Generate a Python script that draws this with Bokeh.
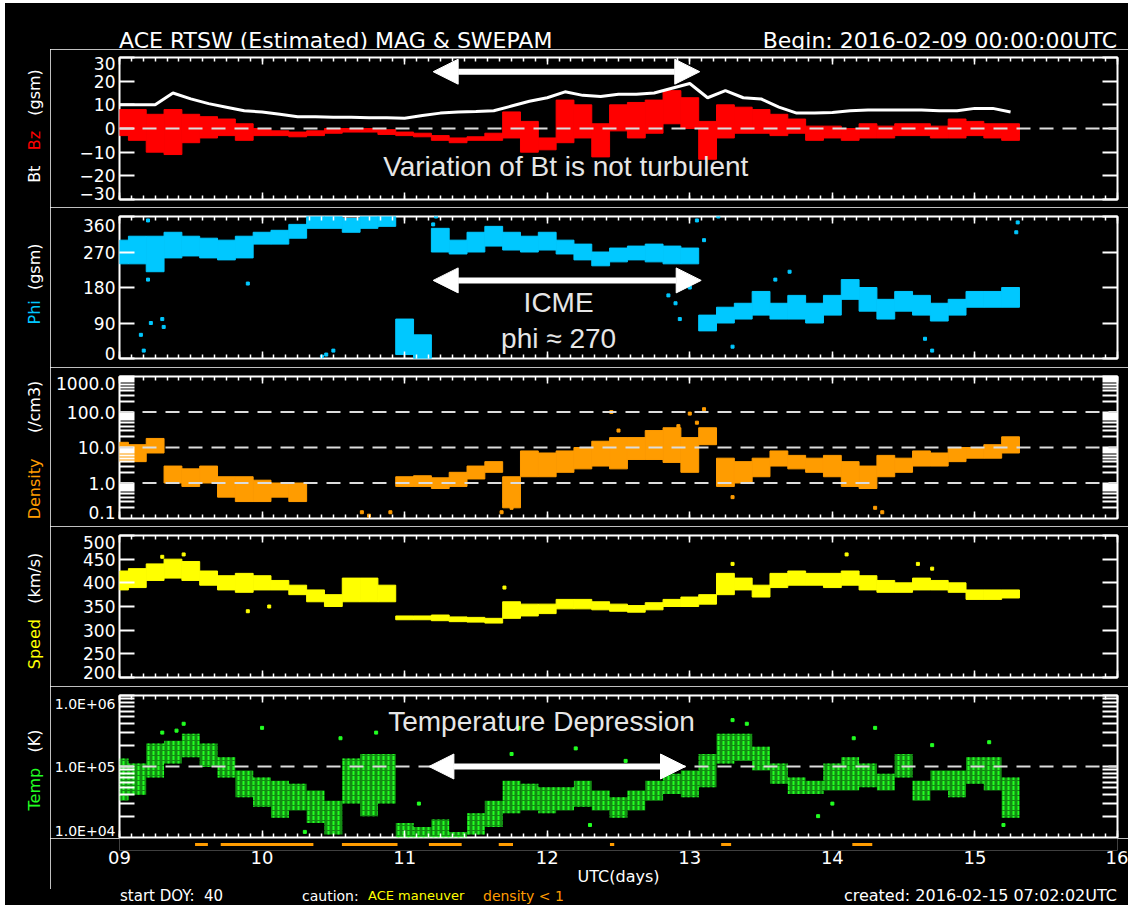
import math
from bokeh.plotting import figure
from bokeh.layouts import column, row
from bokeh.models import (Range1d, FixedTicker, LinearAxis, LogAxis, Span, Label, Div,
                          Arrow, NormalHead, CustomJSTickFormatter)
from bokeh.embed import file_html
from bokeh.resources import INLINE

NaN = float("nan")

# ---------------- data (3-hour bins) ----------------
HOURS = [0, 3, 6, 9, 12, 15, 18, 21, 24, 27, 30, 33, 36, 39, 42, 45, 48, 51, 54, 57,
         60, 63, 66, 69, 72, 75, 78, 81, 84, 87, 90, 93, 96, 99, 102, 105, 108, 111,
         114, 117, 120, 123, 126, 129, 132, 135, 138, 141, 144, 147, 150]
DAYS = [9 + h / 24 for h in HOURS]   # UTC day of February 2016

BT = [10, 10, 10, 15, 12.5, 10.5, 9, 7.5, 7, 6, 5, 5, 4.8, 4.8, 4.5, 4.5, 4.3, 5.5, 6.5, 7,
      7.2, 7.5, 9.5, 11.5, 13, 15.5, 14, 13.5, 14.5, 14.5, 15, 17, 19, 13, 16, 13, 12.5, 9,
      6.5, 6.5, 6.8, 7.5, 7.8, 7.8, 7.8, 7.8, 7.5, 7.5, 8.5, 8.5, 7]
BZ_LO = [-3, -5, -10, -11, -6, -4, -3, -5, -3, -3, -3.5, -3, -2, -1.5, -1.5, -2.5, -3, -3.5,
         -5, -6, -5, -5, -4, -10, -9, -6, -4, -12, -1, -4, -2, 2, 0, -13, -4, -2, -2, -3,
         -2, -5, -4, -5, -4, -4, -3, -3, -4, -4, -3, -4, -5]
BZ_HI = [8, 8, 6, 8, 6, 5, 4, 2, 0, -1, -1.5, -1, 0, 0, 0, -0.5, -1.5, -2, -3, -4, -3.5, -2,
         7, 3, -4, 12, 10, 2, 10, 11, 12, 16, 13, 3, 10, 9, 8, 6, 4, 1, 1, 0, 2, 1, 2, 2, 1,
         4, 3, 2, 2]
PHI_LO = [240, 240, 220, 255, 260, 255, 250, 255, 290, 290, 305, 330, 330, 320, 330, 335,
          10, 0, 270, 265, 270, 285, 275, 270, 275, 265, 250, 235, 245, 250, 245, 240, 240,
          70, 90, 100, 110, 100, 100, 90, 110, 150, 120, 100, 120, 110, 95, 110, 130, 130, 130]
PHI_HI = [300, 310, 310, 320, 310, 305, 300, 310, 320, 325, 340, 360, 360, 355, 360, 360,
          100, 60, 330, 300, 320, 335, 320, 310, 320, 300, 290, 270, 280, 285, 290, 285, 280,
          110, 130, 140, 170, 140, 160, 140, 160, 200, 180, 150, 170, 160, 140, 150, 170, 170, 180]
DENS_LO = [4, 4, 7, 1.0, 0.8, 1.0, 0.4, 0.3, 0.3, 0.4, 0.3, NaN, NaN, NaN, NaN, NaN,
           0.8, 0.8, 0.7, 0.8, 1.3, 2, 0.2, 1.5, 1.5, 2, 2.5, 3, 2.5, 4.6, 4.6, 3.8, 2, 12,
           0.8, 1, 1.5, 3, 2.5, 2, 1.5, 0.8, 0.7, 1.5, 2, 3, 3, 4, 5, 5, 7]
DENS_HI = [14, 12, 18, 3, 2.5, 3, 1.5, 1.5, 1.2, 1.0, 1.0, NaN, NaN, NaN, NaN, NaN,
           1.5, 1.6, 1.4, 2, 3, 4, 1.5, 8, 7, 8, 10, 15, 19, 19, 30, 36, 19, 36,
           5, 4, 5, 8, 6, 5, 6, 4, 3, 6, 5, 8, 7, 10, 10, 12, 20]
SPEED_LO = [385, 390, 405, 410, 405, 395, 385, 380, 385, 385, 375, 360, 350, 360, 360, 360,
            322, 322, 320, 318, 317, 315, 325, 330, 335, 345, 345, 343, 340, 338, 343, 350,
            350, 355, 375, 385, 370, 390, 395, 395, 390, 395, 385, 380, 380, 385, 385, 380,
            365, 365, 368]
SPEED_HI = [425, 430, 440, 450, 445, 425, 415, 420, 415, 405, 395, 385, 375, 410, 410, 395,
            330, 330, 332, 328, 327, 325, 360, 355, 355, 365, 365, 360, 355, 352, 358, 365,
            370, 375, 420, 410, 395, 420, 425, 420, 420, 425, 415, 405, 400, 410, 405, 400,
            385, 385, 385]
TEMP_LO = [3.3e4, 4e4, 7e4, 1.1e5, 1.35e5, 9.8e4, 7e4, 3.7e4, 2.7e4, 1.9e4, 2.4e4, 1.6e4,
           1.1e4, 3e4, 2e4, 3e4, 1e4, 1e4, 1e4, 1e4, 1.1e4, 1.4e4, 2.2e4, 2.4e4, 2.2e4,
           2.4e4, 2.7e4, 2.4e4, 1.9e4, 2.4e4, 3.3e4, 4.1e4, 3.7e4, 5.1e4, 1.1e5, 1.2e5,
           8.8e4, 5.7e4, 4.1e4, 4.1e4, 4.6e4, 4.6e4, 5.1e4, 4.6e4, 7e4, 3.3e4, 4.6e4, 3.7e4,
           5.7e4, 4.6e4, 1.9e4]
TEMP_HI = [1.3e5, 1.1e5, 2.1e5, 2.3e5, 2.9e5, 2.1e5, 1.35e5, 8.8e4, 7e4, 6.3e4, 5.7e4, 4.6e4,
           3.3e4, 1.3e5, 1.5e5, 1.5e5, 1.6e4, 1.4e4, 1.8e4, 1.2e4, 2.2e4, 3.3e4, 6.3e4, 5.7e4,
           5.1e4, 5.1e4, 6.3e4, 4.6e4, 3.7e4, 4.6e4, 6.3e4, 7.9e4, 8.8e4, 1.5e5, 2.9e5, 2.9e5,
           1.9e5, 1.1e5, 7e4, 6.3e4, 1.1e5, 1.35e5, 1.1e5, 7.9e4, 1.5e5, 6.3e4, 8.8e4, 8.8e4,
           1.35e5, 1.35e5, 7e4]

# isolated points that stand apart from the main traces
PHI_OUT_DAY = [9.15, 9.17, 9.2, 9.2, 9.22, 9.3, 9.31, 9.9, 10.42, 10.45, 10.5, 11.2, 11.22,
               12.85, 12.9, 12.93, 13.0, 13.05, 13.1, 13.2, 13.3, 13.6, 13.7, 14.65, 14.7,
               15.29, 15.3]
PHI_OUT_VAL = [60, 20, 350, 200, 90, 100, 80, 190, 5, 10, 20, 340, 360, 160, 140, 100, 180,
               350, 300, 360, 30, 200, 220, 50, 20, 320, 345]
DENS_OUT_DAY = [10.7, 10.75, 10.9, 11.68, 11.7, 11.75, 12.45, 12.5, 12.92, 13.0, 13.05, 13.1,
                13.3, 14.3, 14.35]
DENS_OUT_VAL = [0.15, 0.12, 0.15, 0.15, 0.3, 0.2, 100, 30, 40, 90, 50, 120, 0.4, 0.2, 0.15]
SPEED_OUT_DAY = [9.3, 9.45, 9.9, 10.05, 11.7, 13.3, 14.1, 14.6, 14.7]
SPEED_OUT_VAL = [455, 460, 340, 350, 390, 440, 460, 440, 430]
TEMP_OUT_DAY = [9.3, 9.4, 9.45, 10.0, 10.3, 10.55, 10.8, 11.1, 11.75, 11.8, 12.2, 12.3, 12.55,
                13.3, 13.4, 13.9, 14.0, 14.15, 14.3, 14.7, 15.1, 15.2]
TEMP_OUT_VAL = [3e5, 3.2e5, 4e5, 3.5e5, 1.2e4, 2.5e5, 3e5, 3e4, 1.5e5, 3.5e5, 1.8e5, 1.5e4,
                1.2e5, 4.5e5, 4e5, 2e4, 3e4, 2.5e5, 3.5e5, 2e5, 2.2e5, 1.5e4]

# periods flagged "density < 1" (orange marks under the last panel)
LOW_DENS_START = [9.53, 9.71, 10.56, 11.17, 11.66, 12.44, 13.22, 14.14]
LOW_DENS_END = [9.62, 10.36, 10.95, 11.40, 11.76, 12.47, 13.29, 14.28]

X_TICKS = [9, 10, 11, 12, 13, 14, 15, 16]
X_MINOR = [9 + k / 12 for k in range(85)]

TITLE_LEFT = "ACE RTSW (Estimated) MAG &amp; SWEPAM"
TITLE_RIGHT = "Begin: 2016-02-09 00:00:00UTC"
Y_TITLES = [
    [("Bt", "white"), ("&nbsp;&nbsp; ", "white"), ("Bz", "#ff0000"), ("&nbsp;&nbsp; (gsm)", "white")],
    [("Phi", "#00c8ff"), ("&nbsp; (gsm)", "white")],
    [("Density", "#ff9c00"), ("&nbsp;&nbsp;&nbsp;&nbsp; (/cm3)", "white")],
    [("Speed", "#ffff00"), ("&nbsp;&nbsp; (km/s)", "white")],
    [("Temp", "#22ff22"), ("&nbsp;&nbsp; (K)", "white")],
]
# footer: text, colour, left position (px), font size (px)
FOOTER = [("start DOY:&nbsp; 40", "white", 115, 15), ("caution:", "white", 297, 14),
          ("ACE maneuver", "#ffff00", 363, 13), ("density &lt; 1", "#ff9c00", 478, 14)]
FOOTER_RIGHT = "created: 2016-02-15 07:02:02UTC"

BIN_W = 3 / 24
FONT = "DejaVu Sans"
ANN_FONT = "Liberation Sans"
DASH = "14 9"
GREY = "#dcdcdc"

BLANK = CustomJSTickFormatter(code="return ''")


def style_x(ax):
    ax.ticker = FixedTicker(ticks=X_TICKS, minor_ticks=X_MINOR)
    ax.formatter = BLANK
    ax.axis_line_color = None
    ax.major_tick_in, ax.major_tick_out = 7, 0
    ax.minor_tick_in, ax.minor_tick_out = 4, 0
    ax.major_tick_line_color = "white"
    ax.minor_tick_line_color = "white"
    ax.major_tick_line_width = 1.5
    ax.minor_tick_line_width = 1.5
    ax.major_label_standoff = 0


def style_y_left(ax, label_pos, tick_pos, fmt, font_size):
    # labels sit at label_pos (edge labels nudged inside, as in the original);
    # tick marks are drawn at tick_pos
    ax.ticker = FixedTicker(ticks=label_pos, minor_ticks=tick_pos)
    ax.formatter = fmt
    ax.axis_line_color = None
    ax.major_tick_line_color = None
    ax.major_tick_in, ax.major_tick_out = 0, 0
    ax.minor_tick_in, ax.minor_tick_out = 15, 0
    ax.minor_tick_line_color = "white"
    ax.minor_tick_line_width = 2
    ax.major_label_text_color = "white"
    ax.major_label_text_font = FONT
    ax.major_label_text_font_size = font_size
    ax.major_label_standoff = 4


def style_y_right(ax, tick_pos):
    ax.ticker = FixedTicker(ticks=tick_pos)
    ax.formatter = BLANK
    ax.axis_line_color = None
    ax.major_tick_in, ax.major_tick_out = 15, 0
    ax.major_tick_line_color = "white"
    ax.major_tick_line_width = 2
    ax.minor_tick_line_color = None
    ax.major_label_standoff = 0


def panel(y_range, y_type, label_pos, tick_pos, fmt, top, bottom, font_size="17px"):
    p = figure(frame_width=998, frame_height=142, x_range=Range1d(9, 16), y_range=y_range,
               y_axis_type=y_type, output_backend="svg", toolbar_location=None,
               min_border_left=69, min_border_right=11, min_border_top=top,
               min_border_bottom=bottom, background_fill_color="black",
               border_fill_color="black", outline_line_color="white", outline_line_width=2)
    p.grid.visible = False
    style_x(p.xaxis[0])
    top_ax = LinearAxis()
    style_x(top_ax)
    p.add_layout(top_ax, "above")
    style_y_left(p.yaxis[0], label_pos, tick_pos, fmt, font_size)
    right_ax = LogAxis() if y_type == "log" else LinearAxis()
    style_y_right(right_ax, tick_pos)
    p.add_layout(right_ax, "right")
    return p


def ann(p, x, y, text):
    p.add_layout(Label(x=x, y=y, text=text, text_color="#e6e6e6", text_font=ANN_FONT,
                       text_font_size="28px", text_align="center", text_baseline="middle"))


def arrow(p, x0, x1, y):
    p.add_layout(Arrow(x_start=x0, y_start=y, x_end=x1, y_end=y, line_color="white",
                       line_width=6,
                       start=NormalHead(size=25, fill_color="white", line_color="white"),
                       end=NormalHead(size=25, fill_color="white", line_color="white")))


def hspan(p, v):
    p.add_layout(Span(location=v, dimension="width", line_color=GREY, line_width=2,
                      line_dash=DASH))


def log_minor(n0, n1):
    return [k * 10.0 ** n for n in range(n0, n1) for k in range(1, 10)][1:]


def dots(p, x, y, color):
    p.scatter(x=x, y=y, marker="square", size=3, color=color)


# ---------------- panel 1 : Bt / Bz ----------------
p1 = panel(Range1d(-30, 30), "linear", [-27.3, -20, -10, 0, 10, 20, 27.3],
           [-30, -20, -10, 0, 10, 20, 30],
           CustomJSTickFormatter(code="const v = Math.round(tick/10)*10; return v < 0 ? '\\u2212' + (-v) : String(v)"),
           8, 8)
hspan(p1, 0)
p1.vbar(x=DAYS, bottom=BZ_LO, top=BZ_HI, width=BIN_W, color="#ff0000")
p1.line(x=DAYS, y=BT, line_color="white", line_width=3)
arrow(p1, 11.20, 13.07, 24)
ann(p1, 12.13, -16, "Variation of Bt is not turbulent")

# ---------------- panel 2 : Phi ----------------
p2 = panel(Range1d(0, 360), "linear", [12.7, 90, 180, 270, 337], [0, 90, 180, 270, 360],
           CustomJSTickFormatter(code="return String(Math.round(tick/90)*90)"), 9, 9)
p2.vbar(x=DAYS, bottom=PHI_LO, top=PHI_HI, width=BIN_W, color="#00c8ff")
dots(p2, PHI_OUT_DAY, PHI_OUT_VAL, "#00c8ff")
arrow(p2, 11.20, 13.08, 198)
ann(p2, 12.08, 142, "ICME")
ann(p2, 12.08, 51, "phi \u2248 270")

# ---------------- panel 3 : Density ----------------
p3 = panel(Range1d(0.1, 1000), "log", [0.148, 1, 10, 100, 635], log_minor(-1, 3) + [1000],
           CustomJSTickFormatter(code="return Math.pow(10, Math.round(Math.log10(tick))).toFixed(1)"),
           9, 8)
for v in (1, 10, 100):
    hspan(p3, v)
p3.vbar(x=DAYS, bottom=DENS_LO, top=DENS_HI, width=BIN_W, color="#ff9c00")
dots(p3, DENS_OUT_DAY, DENS_OUT_VAL, "#ff9c00")

# ---------------- panel 4 : Speed ----------------
p4 = panel(Range1d(200, 500), "linear", [210.6, 250, 300, 350, 400, 450, 485.2],
           [200, 250, 300, 350, 400, 450, 500],
           CustomJSTickFormatter(code="return String(Math.round(tick/50)*50)"), 9, 9)
p4.vbar(x=DAYS, bottom=SPEED_LO, top=SPEED_HI, width=BIN_W, color="#ffff00")
dots(p4, SPEED_OUT_DAY, SPEED_OUT_VAL, "#ffff00")

# ---------------- panel 5 : Temperature ----------------
p5 = panel(Range1d(1e4, 1e6), "log", [1.14e4, 1e5, 7.7e5], log_minor(4, 6) + [1e6],
           CustomJSTickFormatter(code="return '1.0E+' + String(Math.round(Math.log10(tick))).padStart(2, '0')"),
           9, 1, font_size="14px")
hspan(p5, 1e5)
p5.vbar(x=DAYS, bottom=TEMP_LO, top=TEMP_HI, width=BIN_W, fill_color="#22ff22", fill_alpha=0.55,
        line_alpha=0, hatch_pattern=":", hatch_color="#22ff22", hatch_scale=5, hatch_weight=2)
dots(p5, TEMP_OUT_DAY, TEMP_OUT_VAL, "#22ff22")
arrow(p5, 11.17, 12.97, 1e5)
ann(p5, 11.96, 4.3e5, "Temperature Depression")

# ---------------- strip: density<1 marks and the day axis ----------------
p6 = figure(frame_width=998, frame_height=12, x_range=p5.x_range, y_range=Range1d(0, 1),
            output_backend="svg", toolbar_location=None, min_border_left=69,
            min_border_right=11, min_border_top=0, min_border_bottom=39,
            background_fill_color="black", border_fill_color="black", outline_line_color=None)
p6.grid.visible = False
p6.yaxis.visible = False
xa = p6.xaxis[0]
xa.ticker = FixedTicker(ticks=X_TICKS)
xa.formatter = CustomJSTickFormatter(code="return String(tick).padStart(2, '0')")
xa.axis_line_color = None
xa.major_tick_line_color = None
xa.minor_tick_line_color = None
xa.major_tick_in, xa.major_tick_out = 0, 0
xa.major_label_standoff = 0
xa.major_label_text_color = "white"
xa.major_label_text_font = FONT
xa.major_label_text_font_size = "18px"
xa.axis_label = "UTC(days)"
xa.axis_label_text_color = "white"
xa.axis_label_text_font = FONT
xa.axis_label_text_font_size = "16px"
xa.axis_label_text_font_style = "normal"
xa.axis_label_standoff = 0
p6.segment(x0=LOW_DENS_START, y0=0.5, x1=LOW_DENS_END, y1=0.5, line_color="#ff9c00",
           line_width=3)

# ---------------- html text: title, axis titles, footer ----------------
title_html = (
    "<div style=\"position:relative;width:1123px;height:46px;background:black;"
    "font-family:'DejaVu Sans';font-size:22px;color:white;line-height:24px\">"
    f"<span style=\"position:absolute;left:114px;top:26px;white-space:nowrap\">{TITLE_LEFT}</span>"
    f"<span style=\"position:absolute;right:11px;top:26px;white-space:nowrap\">{TITLE_RIGHT}</span>"
    "</div>")
title_div = Div(text=title_html, width=1123, height=46, margin=0,
                styles={"background-color": "black"})

centers = [77, 235, 401, 562, 721]          # vertical centres (px) of the axis titles
vt = ""
for parts, cy in zip(Y_TITLES, centers):
    inner = "".join(f'<span style="color:{c}">{t}</span>' for t, c in parts)
    vt += (f"<div style=\"position:absolute;left:30px;top:{cy}px;"
           "transform:translate(-50%,-50%) rotate(-90deg);white-space:nowrap;"
           f"font-family:'DejaVu Sans';font-size:16px;line-height:18px\">{inner}</div>")
left_div = Div(text=f'<div style="position:relative;width:45px;height:840px;background:black">{vt}</div>',
               width=45, height=840, margin=0, styles={"background-color": "black"})

ft = ""
for t, c, x, fs in FOOTER:
    ft += (f'<span style="position:absolute;left:{x}px;bottom:1px;color:{c};font-size:{fs}px;'
           f'white-space:nowrap">{t}</span>')
ft += ('<span style="position:absolute;right:11px;bottom:1px;color:white;font-size:16px;'
       f'white-space:nowrap">{FOOTER_RIGHT}</span>')
footer_div = Div(text=("<div style=\"position:relative;width:1123px;height:16px;background:black;"
                       f"font-family:'DejaVu Sans';line-height:16px\">{ft}</div>"),
                 width=1123, height=16, margin=0, styles={"background-color": "black"})

plots = column(p1, p2, p3, p4, p5, p6, spacing=0)
layout = column(title_div, row(left_div, plots, spacing=0), footer_div, spacing=0,
                margin=(3, 4, 2, 5))
open("out.html", "w").write(file_html(layout, INLINE))
